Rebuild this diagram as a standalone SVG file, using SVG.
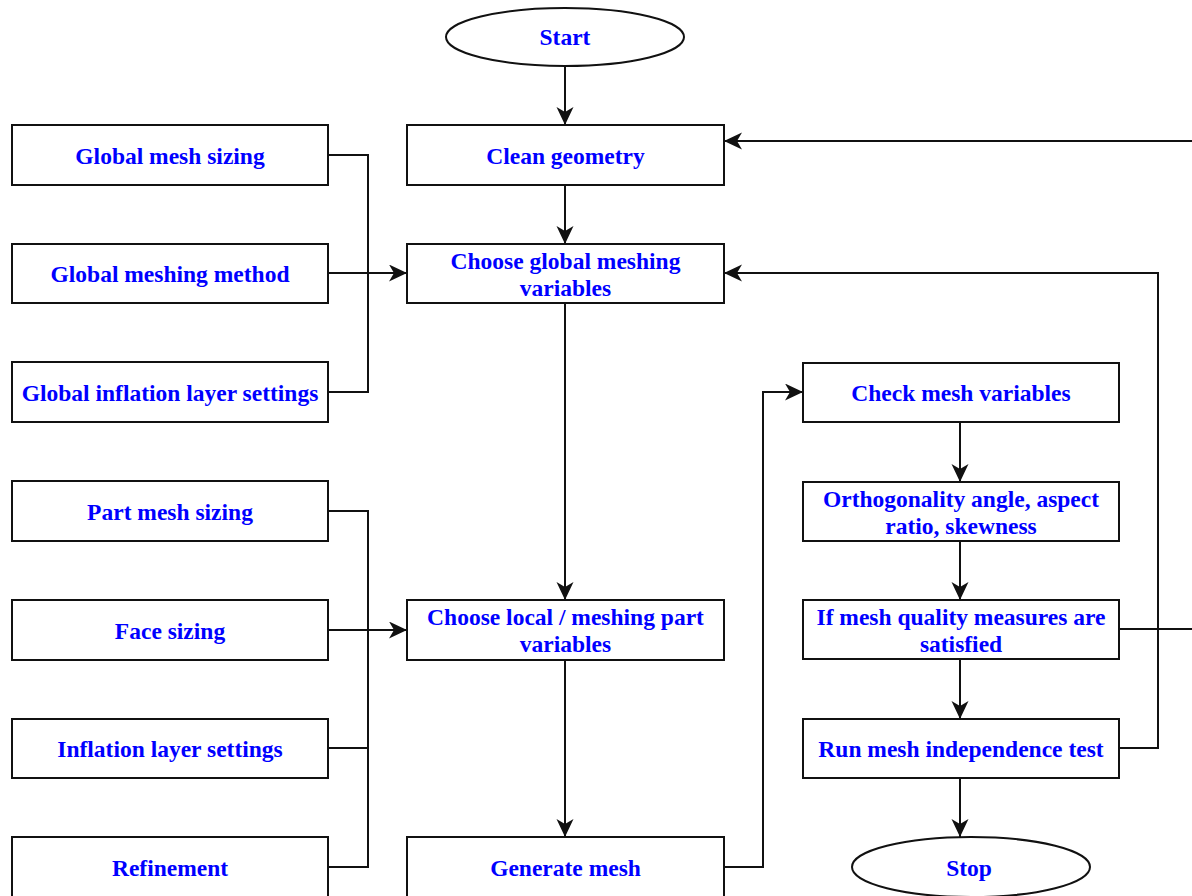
<svg xmlns="http://www.w3.org/2000/svg" width="1192" height="896" viewBox="0 0 1192 896">
<style>
.box{fill:#fff;stroke:#111;stroke-width:2}
.t{font-family:"Liberation Serif","Times New Roman",serif;font-weight:bold;font-size:23.5px;fill:#0000ff;text-anchor:middle}
.c{fill:none;stroke:#111;stroke-width:2}
</style>
<defs>
<marker id="ah" markerUnits="userSpaceOnUse" markerWidth="20" markerHeight="20" refX="18" refY="8.5" orient="auto">
<path d="M0,0 L18,8.5 L0,17 L5,8.5 z" fill="#111"/>
</marker>
</defs>
<rect width="1192" height="896" fill="#fff"/>
<g id="connectors">
<path class="c" d="M565,66 V125" marker-end="url(#ah)"/>
<path class="c" d="M565,185 V244" marker-end="url(#ah)"/>
<path class="c" d="M565,303 V600" marker-end="url(#ah)"/>
<path class="c" d="M565,660 V837" marker-end="url(#ah)"/>
<path class="c" d="M328,155 H368 V392 H328"/>
<path class="c" d="M328,273 H407" marker-end="url(#ah)"/>
<path class="c" d="M328,511 H368 V867 H328"/>
<path class="c" d="M368,748 H328"/>
<path class="c" d="M328,630 H407" marker-end="url(#ah)"/>
<path class="c" d="M724,867 H763 V392 H803" marker-end="url(#ah)"/>
<path class="c" d="M960,422 V482" marker-end="url(#ah)"/>
<path class="c" d="M960,541 V600" marker-end="url(#ah)"/>
<path class="c" d="M960,659 V719" marker-end="url(#ah)"/>
<path class="c" d="M960,778 V837" marker-end="url(#ah)"/>
<path class="c" d="M1119,748 H1158 V273 H724" marker-end="url(#ah)"/>
<path class="c" d="M1119,629 H1192"/>
<path class="c" d="M1192,141 H724" marker-end="url(#ah)"/>
</g>
<g id="start"><ellipse class="box" cx="565" cy="37" rx="119" ry="29"/><text class="t" x="565" y="45">Start</text></g>
<g id="clean"><rect class="box" x="407" y="125" width="317" height="60"/><text class="t" x="565.5" y="164">Clean geometry</text></g>
<g id="global"><rect class="box" x="407" y="244" width="317" height="59"/><text class="t" x="565.5" y="269">Choose global meshing</text><text class="t" x="565.5" y="296">variables</text></g>
<g id="local"><rect class="box" x="407" y="600" width="317" height="60"/><text class="t" x="565.5" y="625">Choose local / meshing part</text><text class="t" x="565.5" y="652">variables</text></g>
<g id="generate"><rect class="box" x="407" y="837" width="317" height="60"/><text class="t" x="565.5" y="876">Generate mesh</text></g>
<g id="gms"><rect class="box" x="12" y="125" width="316" height="60"/><text class="t" x="170" y="164">Global mesh sizing</text></g>
<g id="gmm"><rect class="box" x="12" y="244" width="316" height="59"/><text class="t" x="170" y="282">Global meshing method</text></g>
<g id="gil"><rect class="box" x="12" y="362" width="316" height="60"/><text class="t" x="170" y="401">Global inflation layer settings</text></g>
<g id="pms"><rect class="box" x="12" y="481" width="316" height="60"/><text class="t" x="170" y="520">Part mesh sizing</text></g>
<g id="fs"><rect class="box" x="12" y="600" width="316" height="60"/><text class="t" x="170" y="639">Face sizing</text></g>
<g id="ils"><rect class="box" x="12" y="719" width="316" height="59"/><text class="t" x="170" y="757">Inflation layer settings</text></g>
<g id="ref"><rect class="box" x="12" y="837" width="316" height="60"/><text class="t" x="170" y="876">Refinement</text></g>
<g id="check"><rect class="box" x="803" y="363" width="316" height="59"/><text class="t" x="961" y="401">Check mesh variables</text></g>
<g id="ortho"><rect class="box" x="803" y="482" width="316" height="59"/><text class="t" x="961" y="507">Orthogonality angle, aspect</text><text class="t" x="961" y="534">ratio, skewness</text></g>
<g id="ifq"><rect class="box" x="803" y="600" width="316" height="59"/><text class="t" x="961" y="625">If mesh quality measures are</text><text class="t" x="961" y="652">satisfied</text></g>
<g id="run"><rect class="box" x="803" y="719" width="316" height="59"/><text class="t" x="961" y="757">Run mesh independence test</text></g>
<g id="stop"><ellipse class="box" cx="971" cy="867" rx="119" ry="30"/><text class="t" x="969" y="876">Stop</text></g>
</svg>
